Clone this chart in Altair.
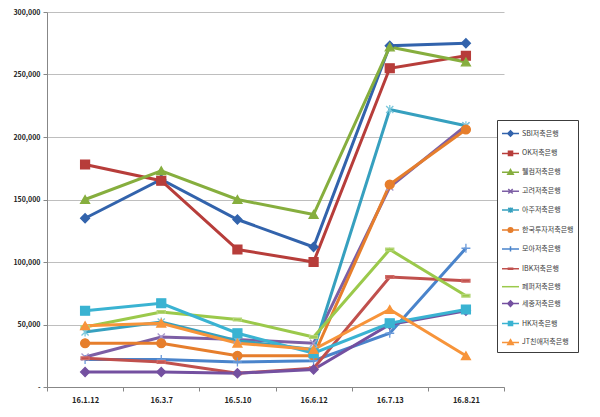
import altair as alt
import pandas as pd

dates = ["16.1.12", "16.3.7", "16.5.10", "16.6.12", "16.7.13", "16.8.21"]
series_names = ["SBI저축은행", "OK저축은행", "웰컴저축은행", "고려저축은행", "아주저축은행",
                "한국투자저축은행", "모아저축은행", "IBK저축은행", "페퍼저축은행", "세종저축은행",
                "HK저축은행", "JT친애저축은행"]

sbi = [135000, 166000, 134000, 112000, 273000, 275000]
ok = [178000, 165000, 110000, 100000, 255000, 265000]
welcome = [150000, 173000, 150000, 138000, 272000, 260000]
korea = [24000, 40000, 38000, 35000, 160000, 209000]
aju = [44000, 52000, 37000, 30000, 222000, 209000]
hankook = [35000, 35000, 25000, 25000, 162000, 206000]
moa = [22000, 22000, 20000, 21000, 43000, 111000]
ibk = [23000, 20000, 11000, 15000, 88000, 85000]
pepper = [48000, 60000, 54000, 40000, 110000, 73000]
sejong = [12000, 12000, 11000, 14000, 50000, 61000]
hk = [61000, 67000, 43000, 27000, 51000, 62000]
jt = [49000, 51000, 35000, 30000, 62000, 25000]

all_values = [sbi, ok, welcome, korea, aju, hankook, moa, ibk, pepper, sejong, hk, jt]

rows = []
for name, vals in zip(series_names, all_values):
    for d, v in zip(dates, vals):
        rows.append({"date": d, "series": name, "value": v})
df = pd.DataFrame(rows)

line_colors = ["#3263AC", "#B73D3A", "#86AE3E", "#7D5FA5", "#36A0BF", "#E67E2C",
               "#4A84CB", "#C0504D", "#9BC94B", "#7450A0", "#3AB3D2", "#F7943A"]
marker_strokes = ["#3263AC", "#B73D3A", "#86AE3E", "#A898CC", "#7CC8DC", "#E67E2C",
                  "#6A9ADA", "#D06A66", "#B5D67A", "#7450A0", "#3AB3D2", "#F7943A"]

X_PATH = "M-0.8,-0.8L0.8,0.8M-0.8,0.8L0.8,-0.8"
STAR_PATH = "M-0.8,-0.8L0.8,0.8M-0.8,0.8L0.8,-0.8M0,-1L0,1"
PLUS_PATH = "M-1,0L1,0M0,-1L0,1"
DASH_PATH = "M-0.9,-0.3L0.9,-0.3L0.9,0.3L-0.9,0.3Z"
marker_shapes = ["diamond", "square", "triangle-up", X_PATH, STAR_PATH, "circle",
                 PLUS_PATH, DASH_PATH, DASH_PATH, "diamond", "square", "triangle-up"]

LINE = "M-1,0L1,0"
lg_diamond = LINE + "M0,-0.32L0.32,0L0,0.32L-0.32,0Z"
lg_square = LINE + "M-0.24,-0.24L0.24,-0.24L0.24,0.24L-0.24,0.24Z"
lg_tri = LINE + "M0,-0.32L0.32,0.24L-0.32,0.24Z"
lg_x = LINE + "M-0.26,-0.26L0.26,0.26M-0.26,0.26L0.26,-0.26"
lg_star = lg_x + "M0,-0.32L0,0.32"
lg_circle = LINE + "M-0.27,0A0.27,0.27,0,1,0,0.27,0A0.27,0.27,0,1,0,-0.27,0Z"
lg_plus = LINE + "M0,-0.32L0,0.32"
lg_dash = LINE + "M-0.25,-0.06L0.25,-0.06L0.25,0.06L-0.25,0.06Z"
legend_paths = [lg_diamond, lg_square, lg_tri, lg_x, lg_star, lg_circle,
                lg_plus, lg_dash, LINE, lg_diamond, lg_square, lg_tri]

FONT = "Noto Sans CJK KR"

legend = alt.Legend(
    orient="none", legendX=450, legendY=108, title=None,
    symbolSize=289, rowPadding=3.9, padding=4, symbolStrokeWidth=1.5,
    symbolOpacity=1,
    labelFont=FONT, labelFontSize=7, labelColor="#3a3a3a", labelOffset=2,
    labelLimit=80,
    strokeColor="#3c3c3c", fillColor="white",
)

x_enc = alt.X("date:N", sort=dates, bandPosition=0.5,
              scale=alt.Scale(type="band", paddingInner=0, paddingOuter=0),
              axis=alt.Axis(title=None, labelAngle=0, tickBand="extent", grid=False,
                            labelFont=FONT, labelFontWeight="bold", labelFontSize=7.5,
                            labelColor="#222222", domainColor="#878787",
                            tickColor="#878787", tickSize=4, labelPadding=5))
y_enc = alt.Y("value:Q", scale=alt.Scale(domain=[0, 300000], nice=False),
              axis=alt.Axis(title=None, values=[0, 50000, 100000, 150000, 200000, 250000, 300000],
                            labelExpr="datum.value == 0 ? '-' : format(datum.value, ',')",
                            labelFont=FONT, labelFontWeight="bold", labelFontSize=7,
                            labelColor="#222222", domainColor="#878787",
                            tickColor="#878787", tickSize=4, labelPadding=3,
                            gridColor="#BEBEBE"))
color_enc = alt.Color("series:N", sort=series_names,
                      scale=alt.Scale(domain=series_names, range=line_colors),
                      legend=None)

lines = alt.Chart(df).mark_line(strokeWidth=3).encode(
    x=x_enc, y=y_enc, color=color_enc, detail="series:N",
    order=alt.Order("date:N"),
)
points = alt.Chart(df).mark_point(filled=True, size=80, opacity=1, strokeWidth=1.3).encode(
    x=x_enc, y=y_enc, color=color_enc,
    shape=alt.Shape("series:N", scale=alt.Scale(domain=series_names, range=marker_shapes), legend=None),
    stroke=alt.Stroke("series:N", scale=alt.Scale(domain=series_names, range=marker_strokes), legend=None),
)
legend_layer = alt.Chart(df).transform_filter("false").mark_point(
    filled=True, size=289, opacity=1, strokeWidth=1.5
).encode(
    x=x_enc, y=y_enc,
    fill=alt.Fill("series:N", scale=alt.Scale(domain=series_names, range=line_colors), legend=legend),
    stroke=alt.Stroke("series:N", scale=alt.Scale(domain=series_names, range=line_colors), legend=legend),
    shape=alt.Shape("series:N", scale=alt.Scale(domain=series_names, range=legend_paths), legend=legend),
)

chart = alt.layer(lines, points, legend_layer).resolve_scale(
    shape="independent", stroke="independent", fill="independent"
).properties(
    width=457, height=375,
    autosize=alt.AutoSizeParams(type="none"),
    padding={"left": 39, "top": 4, "right": 85, "bottom": 20},
).configure_view(stroke=None)

chart.save("out.html", embed_options={"renderer": "svg", "actions": False})
